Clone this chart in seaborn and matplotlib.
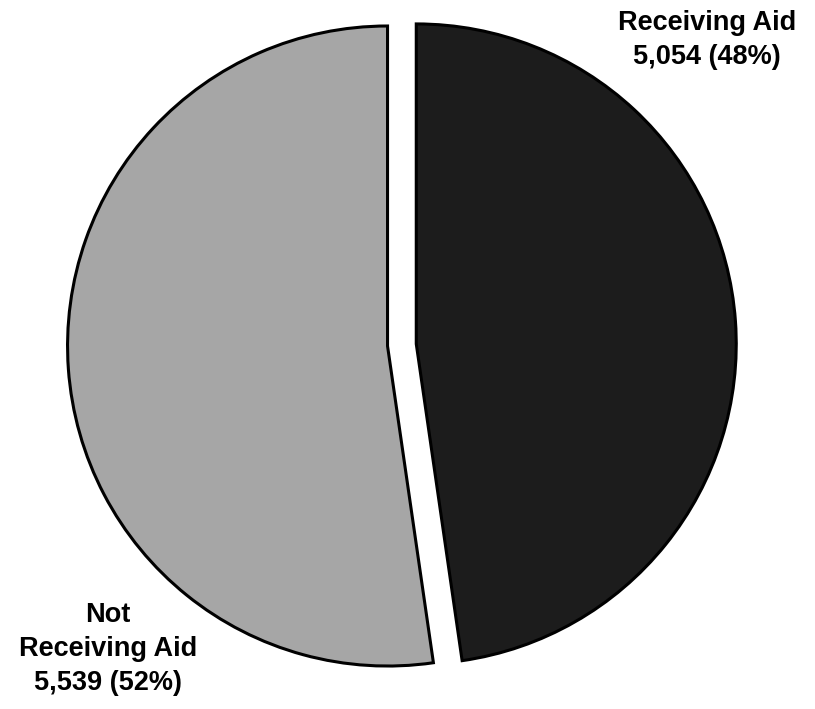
import matplotlib
matplotlib.use("Agg")
import matplotlib.pyplot as plt
import seaborn as sns

# Datos
categorias = ["Receiving Aid", "Not\nReceiving Aid"]
conteos = [5054, 5539]
porcentajes = [48, 52]
colores = ["#1c1c1c", "#a6a6a6"]

sns.set_theme(style="white")
plt.rcParams["font.family"] = ["Liberation Sans", "DejaVu Sans"]

fig = plt.figure(figsize=(8.15, 7.09), dpi=100)
ax = fig.add_axes([0, 0, 1, 1])

# Pie, dark slice first, clockwise from the top
ax.pie(conteos, colors=colores, startangle=90, counterclock=False,
       explode=[0.045, 0.045], radius=1.0,
       wedgeprops=dict(edgecolor="black", linewidth=2.2))

ax.set_xlim(-1.256, 1.291)
ax.set_ylim(-1.1375, 1.078)
ax.set_aspect("auto")
ax.axis("off")

# Etiquetas
pos_labels = [(0.953, 0.953), (-0.919, -0.95)]
for cat, n, p, (x, y) in zip(categorias, conteos, porcentajes, pos_labels):
    ax.text(x, y, f"{cat}\n{n:,} ({p}%)", ha="center", va="center",
            fontsize=19.5, fontweight="bold", linespacing=1.4, color="black")

fig.savefig("out.png", dpi=100)
